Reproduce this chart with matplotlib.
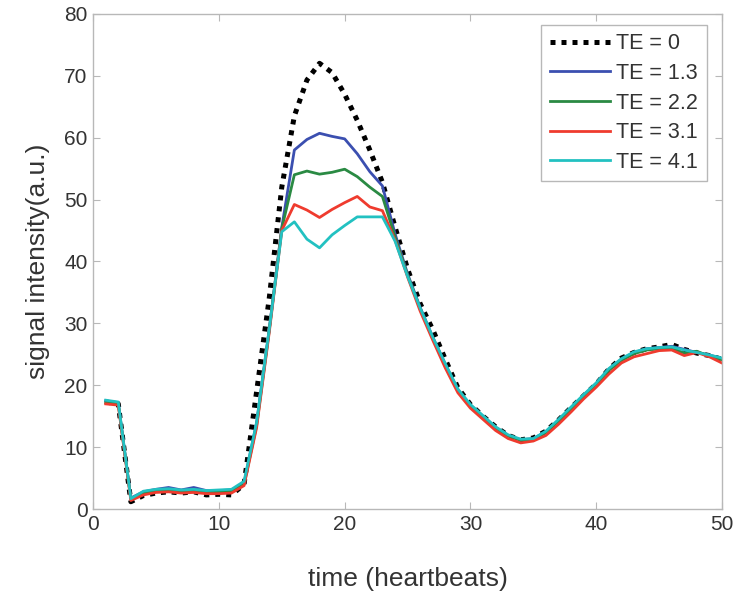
import matplotlib
matplotlib.use("Agg")
import matplotlib.pyplot as plt
import numpy as np

# heartbeat index
t = np.arange(1, 51)

te_labels = ["TE = 0", "TE = 1.3", "TE = 2.2", "TE = 3.1", "TE = 4.1"]

# signal intensity for each echo time
te0 = [17.3, 17.0, 1.2, 2.2, 2.6, 2.8, 2.6, 2.8, 2.3, 2.4,
       2.3, 4.0, 19.0, 34.0, 52.0, 63.5, 69.3, 72.0, 70.5, 67.0,
       62.8, 58.0, 52.8, 45.6, 38.8, 33.2, 29.0, 24.2, 19.6, 16.9,
       15.0, 13.3, 11.9, 11.2, 11.5, 12.6, 14.4, 16.4, 18.3, 20.2,
       22.6, 24.4, 25.3, 25.9, 26.2, 26.6, 25.8, 25.2, 24.8, 24.2]
te13 = [17.5, 17.2, 1.8, 2.8, 3.2, 3.5, 3.1, 3.5, 3.0, 3.0,
        3.1, 4.2, 14.0, 29.0, 45.5, 58.0, 59.7, 60.7, 60.2, 59.8,
        57.4, 54.5, 52.2, 44.5, 38.0, 32.6, 27.8, 23.4, 19.3, 16.8,
        15.0, 13.2, 11.9, 11.2, 11.4, 12.5, 14.3, 16.3, 18.4, 20.3,
        22.6, 24.2, 25.3, 25.9, 26.1, 26.3, 25.8, 25.3, 24.9, 24.3]
te22 = [17.2, 17.0, 1.6, 2.6, 3.0, 3.1, 2.9, 3.0, 2.8, 2.8,
        2.9, 4.0, 13.5, 28.8, 45.3, 54.0, 54.6, 54.1, 54.4, 54.9,
        53.7, 52.0, 50.5, 44.0, 37.8, 32.4, 27.6, 23.3, 19.2, 16.7,
        14.9, 13.1, 11.8, 11.1, 11.3, 12.4, 14.2, 16.2, 18.3, 20.2,
        22.4, 24.0, 25.1, 25.7, 25.9, 26.0, 25.2, 25.5, 24.7, 24.1]
te31 = [17.0, 16.8, 1.4, 2.3, 2.7, 2.8, 2.6, 2.7, 2.5, 2.5,
        2.6, 3.8, 13.2, 28.5, 45.0, 49.2, 48.3, 47.1, 48.4, 49.5,
        50.5, 48.8, 48.2, 43.5, 37.5, 32.0, 27.3, 22.8, 18.8, 16.3,
        14.5, 12.7, 11.4, 10.7, 11.0, 11.9, 13.7, 15.7, 17.8, 19.7,
        21.8, 23.6, 24.6, 25.1, 25.6, 25.7, 24.8, 25.3, 24.6, 23.6]
te41 = [17.6, 17.3, 1.7, 2.9, 3.2, 3.3, 3.1, 3.2, 3.0, 3.1,
        3.2, 4.5, 14.0, 29.0, 44.8, 46.4, 43.6, 42.2, 44.3, 45.8,
        47.2, 47.2, 47.2, 43.3, 37.6, 32.5, 27.8, 23.5, 19.4, 16.9,
        15.1, 13.3, 12.0, 11.3, 11.4, 12.6, 14.5, 16.5, 18.5, 20.4,
        22.7, 24.3, 25.4, 25.9, 26.1, 26.2, 25.7, 25.3, 24.9, 24.4]

colors = ["#000000", "#3b4fb0", "#2a8a43", "#ef3b2e", "#22c1c1"]

plt.rcParams["font.family"] = ["Liberation Sans", "DejaVu Sans"]

fig = plt.figure(figsize=(7.39, 5.99), dpi=100)
ax = fig.add_axes([0.126, 0.150, 0.851, 0.827])

ax.plot(t, te0, color=colors[0], lw=3.6, linestyle=(0, (1.0, 1.2)),
        label=te_labels[0])
for y, c, lab in zip([te13, te22, te31, te41], colors[1:], te_labels[1:]):
    ax.plot(t, y, color=c, lw=2.0, label=lab)

ax.set_xlim(0, 50)
ax.set_ylim(0, 80)
ax.set_xticks(np.arange(0, 51, 10))
ax.set_yticks(np.arange(0, 81, 10))

for s in ax.spines.values():
    s.set_color("#b8b8b8")
    s.set_linewidth(1.0)
ax.tick_params(direction="in", length=5, width=0.8, color="#b8b8b8",
               top=True, right=True, labelsize=15, labelcolor="#333333",
               pad=4)

ax.set_xlabel("time (heartbeats)", fontsize=19, color="#333333", labelpad=24)
ax.set_ylabel("signal intensity(a.u.)", fontsize=19, color="#333333",
              labelpad=10)

leg = ax.legend(loc="upper right", fontsize=15.5, handlelength=2.8,
                handletextpad=0.3, labelspacing=0.4, borderpad=0.4,
                borderaxespad=0, fancybox=False, framealpha=1,
                bbox_to_anchor=(0.976, 0.978))
leg.get_frame().set_edgecolor("#b8b8b8")
leg.get_frame().set_linewidth(1.0)
for txt in leg.get_texts():
    txt.set_color("#333333")

fig.savefig("out.png", dpi=100)
